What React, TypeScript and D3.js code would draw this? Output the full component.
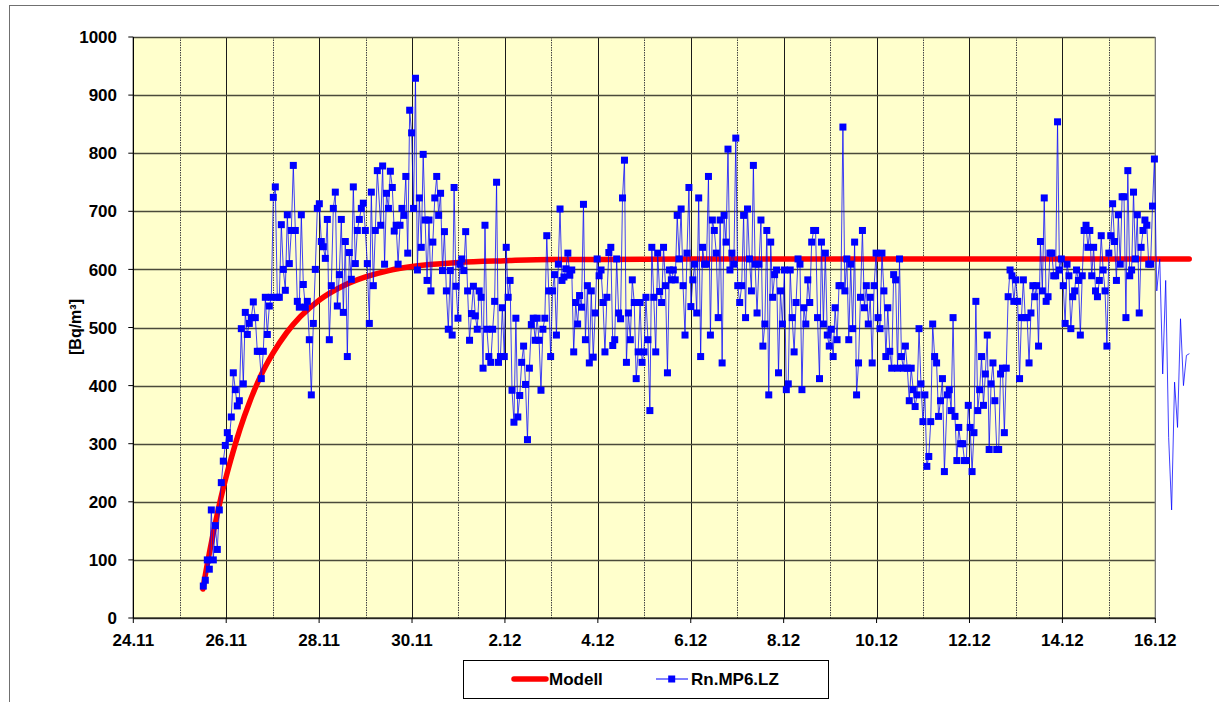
import React from 'react';
import * as d3 from 'd3';

// x tick labels, every 2 days starting 24.11 (day 0)
const xTickLabels = ['24.11', '26.11', '28.11', '30.11', '2.12', '4.12', '6.12', '8.12', '10.12', '12.12', '14.12', '16.12'];
const yTickValues = [0, 100, 200, 300, 400, 500, 600, 700, 800, 900, 1000];

// Modell curve (days since 24.11, Bq/m³)
const modelDays = [1.5, 1.52, 1.65, 1.8, 1.95, 2.1, 2.3, 2.5, 2.75, 3.0, 3.3, 3.6, 4.0, 4.5, 5.0, 5.5, 6.0, 7.0, 8.0, 9.0, 10.0, 12.0, 22.73];
const modelValues = [50, 60, 117, 176, 228, 273, 326, 371, 418, 455, 491, 519, 547, 571, 587, 598, 605, 612, 615, 617, 617, 618, 618];

// Rn.MP6.LZ hourly measurements, split into consecutive stretches (start/end day since 24.11)
const segStartDays = [1.507, 5.326, 9.186, 13.385, 17.524];
const segEndDays = [5.253, 9.150, 13.348, 17.460, 21.981];
const seriesA = [55, 65, 100, 84, 186, 100, 159, 118, 186, 233, 270, 297, 319, 309, 346, 422, 393, 365, 374, 498, 403, 526, 488, 507, 517, 544, 517, 459, 459, 412, 459, 552, 488, 537, 552, 724, 742, 552, 552, 677, 600, 564, 694, 610, 667, 779, 667, 545, 535, 694, 574, 535, 545, 479, 384, 507, 600, 705, 713, 648, 639, 619, 686, 479, 572, 705, 733, 537, 591, 686, 526, 648, 450, 629, 583, 742, 610, 667, 686, 705, 714, 667, 610, 507, 733, 572, 667, 770];
const seriesB = [676, 778, 609, 731, 705, 769, 741, 666, 676, 609, 676, 705, 693, 760, 628, 874, 835, 705, 929, 599, 723, 638, 798, 685, 581, 685, 563, 647, 723, 760, 693, 731, 598, 665, 563, 497, 598, 487, 741, 571, 516, 609, 618, 598, 665, 563, 478, 524, 571, 520, 497, 563, 552, 430, 676, 497, 450, 440, 497, 545, 750, 440, 450, 534, 450, 638, 552, 581, 392, 337, 516, 346, 383, 440, 468, 402, 307, 430, 505, 516, 478, 516, 478, 392, 497, 516, 658, 563, 450, 563, 591, 487, 609];
const seriesC = [704, 581, 587, 601, 628, 590, 599, 458, 543, 506, 555, 535, 712, 479, 572, 439, 563, 449, 525, 618, 589, 599, 543, 458, 552, 629, 638, 469, 479, 618, 525, 515, 723, 788, 440, 525, 479, 582, 543, 412, 458, 543, 440, 458, 552, 479, 357, 638, 552, 458, 628, 562, 543, 638, 572, 422, 599, 582, 599, 582, 693, 618, 704, 572, 487, 628, 741, 536, 582, 609, 525, 723, 450, 638, 609, 609, 760, 487, 685, 667, 628, 517, 685, 439, 693, 647, 807, 599, 628, 609, 826, 572, 543, 572, 693, 517, 704, 618, 563, 779];
const seriesD = [609, 525, 609, 685, 468, 506, 667, 384, 647, 552, 591, 599, 422, 563, 506, 599, 393, 403, 599, 517, 458, 543, 618, 609, 393, 534, 506, 582, 543, 647, 667, 667, 517, 412, 647, 506, 628, 487, 468, 497, 450, 534, 479, 572, 572, 845, 563, 618, 479, 609, 498, 647, 384, 439, 552, 667, 534, 572, 506, 552, 439, 572, 628, 517, 498, 628, 563, 450, 534, 459, 430, 591, 582, 430, 618, 450, 430, 468, 430, 374, 430, 393, 364, 384, 498, 403, 338, 384, 261, 278, 338, 506, 450, 439, 347, 374, 412, 252];
const seriesE = [384, 393, 357, 517, 347, 271, 328, 300, 300, 271, 271, 366, 328, 252, 319, 545, 357, 393, 450, 366, 420, 487, 290, 403, 439, 374, 290, 290, 420, 430, 319, 430, 553, 599, 589, 545, 582, 545, 412, 517, 582, 517, 517, 439, 525, 572, 553, 572, 468, 648, 563, 723, 545, 553, 628, 628, 589, 589, 854, 599, 618, 572, 507, 609, 589, 498, 553, 563, 599, 581, 487, 589, 667, 676, 638, 667, 589, 638, 563, 553, 581, 658, 599, 563, 468, 628, 658, 713, 648, 581, 694, 609, 725, 725, 517, 770, 589, 599, 733, 618, 694, 525, 638, 667, 685, 676, 609, 609, 709, 790];
// values drawn past the plot edge (line only, no markers)
const tailStartDay = 22.032;
const tailEndDay = 22.734;
const seriesTail = [563, 618, 420, 581, 311, 186, 406, 328, 515, 400, 452, 455];

const W = 1219;
const H = 702;
const PL = 133.3, PR = 1155.3, PT = 37, PB = 618;
const FONT = '"Liberation Sans", Arial, Helvetica, sans-serif';

type Pt = { d: number; v: number };

function spread(values: number[], start: number, end: number): Pt[] {
  const step = values.length > 1 ? (end - start) / (values.length - 1) : 0;
  return values.map((v, i) => ({ d: start + i * step, v }));
}

const snap = (p: number) => Math.round(p) + 0.5;

export default function App() {
  const x = d3.scaleLinear().domain([0, 22]).range([PL, PR]);
  const y = d3.scaleLinear().domain([0, 1000]).range([PB, PT]);

  const segs = [seriesA, seriesB, seriesC, seriesD, seriesE];
  const markerPts: Pt[] = [];
  segs.forEach((s, k) => markerPts.push(...spread(s, segStartDays[k], segEndDays[k])));
  const tailPts = spread(seriesTail, tailStartDay, tailEndDay);
  const allPts = [...markerPts, ...tailPts];

  const line = d3.line<Pt>().x(p => x(p.d)).y(p => y(p.v));
  const modelPts: Pt[] = modelDays.map((d, i) => ({ d, v: modelValues[i] }));
  const modelLine = d3.line<Pt>().x(p => x(p.d)).y(p => y(p.v)).curve(d3.curveMonotoneX);

  const dayTicks = d3.range(0, 23);
  const ms = 7;

  return (
    <div style={{ position: 'absolute', left: 0, top: 0 }}>
      <svg width={W} height={H} style={{ display: 'block', background: '#fff' }} fontFamily={FONT}>
        {/* outer chart frame */}
        <rect x={9.5} y={5.5} width={1260} height={740} fill="#fff" stroke="#707070" strokeWidth={1} />
        {/* plot area */}
        <rect x={PL} y={PT} width={PR - PL} height={PB - PT} fill="#FFFFCC" />
        {/* vertical grid */}
        {dayTicks.map(d => (
          d % 2 === 0 ? (
            <line key={'v' + d} x1={snap(x(d))} x2={snap(x(d))} y1={PT} y2={PB} stroke="#1a1a1a" strokeWidth={1} />
          ) : (
            <line key={'v' + d} x1={snap(x(d))} x2={snap(x(d))} y1={PT} y2={PB} stroke="#444" strokeWidth={1} strokeDasharray="1.5,1" />
          )
        ))}
        {/* horizontal grid */}
        {yTickValues.map(v => (
          <line key={'h' + v} x1={PL} x2={PR} y1={snap(y(v))} y2={snap(y(v))} stroke="#4a4a3a" strokeWidth={1.3} />
        ))}
        {/* right border of plot */}
        <line x1={PR} x2={PR} y1={PT} y2={PB} stroke="#808080" strokeWidth={1.3} />

        {/* Modell */}
        <path d={modelLine(modelPts) || ''} fill="none" stroke="#FF0000" strokeWidth={5.5} strokeLinecap="round" strokeLinejoin="round" />

        {/* Rn.MP6.LZ */}
        <path d={line(allPts) || ''} fill="none" stroke="#0000FF" strokeOpacity={0.75} strokeWidth={1} />
        {markerPts.map((p, i) => (
          <rect key={'m' + i} x={x(p.d) - ms / 2} y={y(p.v) - ms / 2} width={ms} height={ms} fill="#0000FF" />
        ))}

        {/* axes */}
        <line x1={PL} x2={PL} y1={PT} y2={PB} stroke="#000" strokeWidth={1.2} />
        <line x1={PL} x2={PR} y1={PB} y2={PB} stroke="#000" strokeWidth={1.2} />
        {yTickValues.map(v => (
          <g key={'yt' + v}>
            <line x1={PL - 5} x2={PL} y1={y(v)} y2={y(v)} stroke="#000" strokeWidth={1} />
            <text x={117} y={y(v)} dy="0.36em" textAnchor="end" fontSize={17} fontWeight="bold" fill="#000">{v}</text>
          </g>
        ))}
        {xTickLabels.map((lab, i) => (
          <g key={'xt' + i}>
            <line x1={x(i * 2)} x2={x(i * 2)} y1={PB} y2={PB + 5} stroke="#000" strokeWidth={1} />
            <text x={x(i * 2)} y={645.5} textAnchor="middle" fontSize={17} fontWeight="bold" fill="#000">{lab}</text>
          </g>
        ))}
        {/* y axis title */}
        <text transform="translate(81,327) rotate(-90)" textAnchor="middle" fontSize={16} fontWeight="bold" fill="#000">[Bq/m³]</text>

        {/* legend */}
        <rect x={463.5} y={660.5} width={365} height={38} fill="#fff" stroke="#000" strokeWidth={1} />
        <line x1={514} x2={546} y1={679} y2={679} stroke="#FF0000" strokeWidth={5.5} strokeLinecap="round" />
        <text x={549} y={685} fontSize={17} fontWeight="bold" fill="#000">Modell</text>
        <line x1={656} x2={688} y1={679} y2={679} stroke="#0000FF" strokeWidth={1} />
        <rect x={671.7 - 3.5} y={679 - 3.5} width={7} height={7} fill="#0000FF" />
        <text x={691} y={685} fontSize={17} fontWeight="bold" fill="#000">Rn.MP6.LZ</text>
      </svg>
    </div>
  );
}
